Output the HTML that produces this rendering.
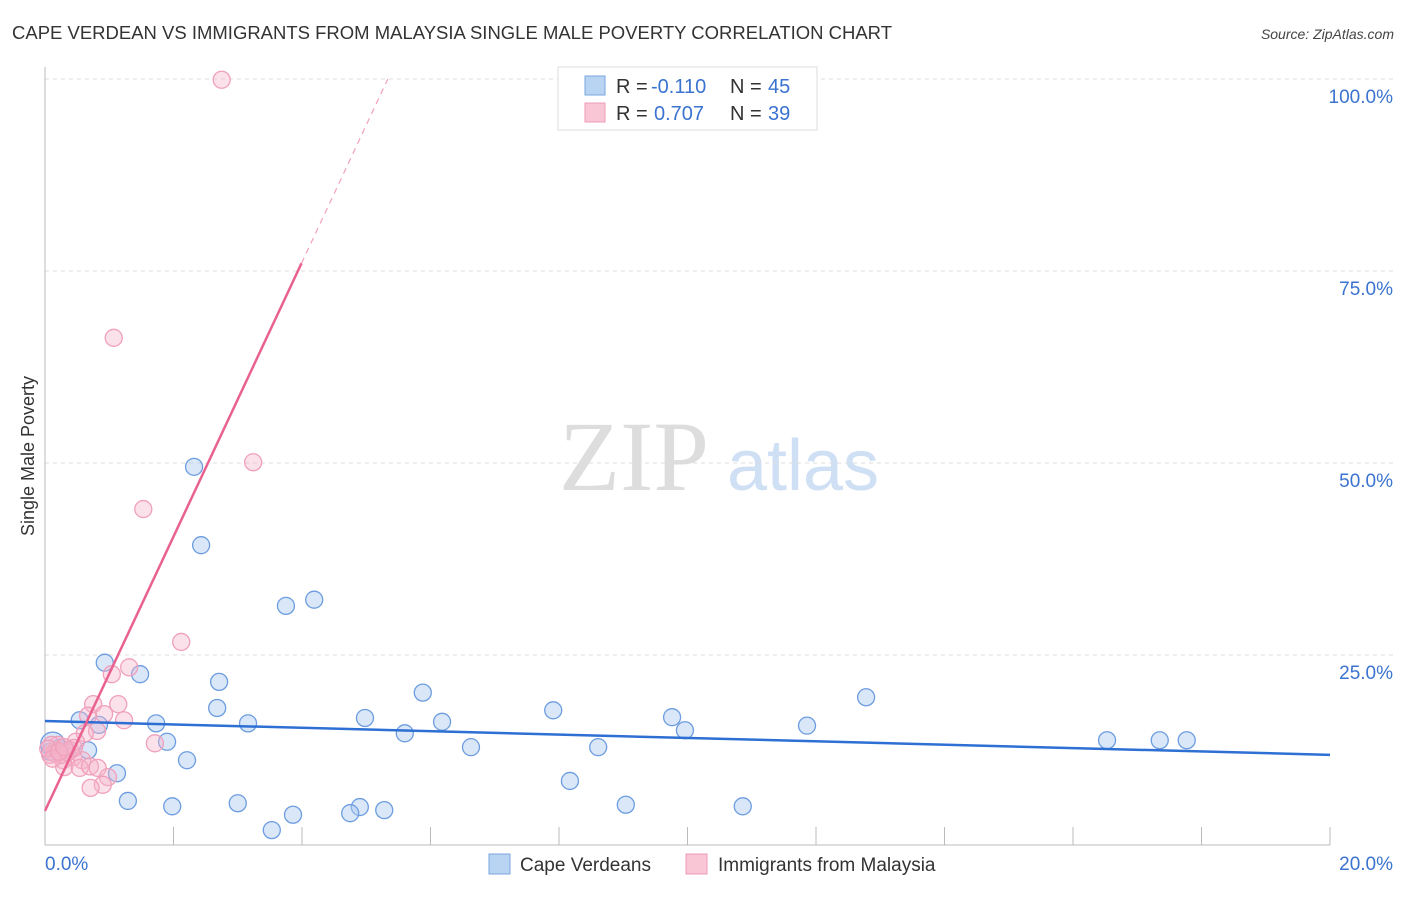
<!DOCTYPE html>
<html><head><meta charset="utf-8"><style>
body{margin:0;background:#fff;font-family:"Liberation Sans",sans-serif;}
</style></head><body>
<svg id="c" width="1406" height="892" style="font-family:'Liberation Sans',sans-serif">
<text x="12" y="39" font-size="18" fill="#333" textLength="880" lengthAdjust="spacingAndGlyphs">CAPE VERDEAN VS IMMIGRANTS FROM MALAYSIA SINGLE MALE POVERTY CORRELATION CHART</text>
<text x="1394" y="39" font-size="14" fill="#444" font-style="italic" text-anchor="end">Source: ZipAtlas.com</text>
<text x="34" y="456" font-size="18" fill="#333" text-anchor="middle" transform="rotate(-90 34 456)">Single Male Poverty</text>
<g><text x="634" y="490" font-size="100" fill="#ddd" style="font-family:'Liberation Serif',serif" text-anchor="middle">ZIP</text><text x="803" y="490" font-size="72" fill="#cfe0f5" text-anchor="middle">atlas</text></g>
<g id="grid"></g><g id="marks"></g>
<g>
<rect x="558" y="67" width="259" height="63" fill="#fff" stroke="#ddd"/>
<rect x="585" y="76" width="20" height="19" fill="#b9d3f2" stroke="#7aa6e0"/>
<rect x="585" y="103" width="20" height="19" fill="#f9c6d6" stroke="#ee9bb6"/>
<text x="616" y="93" font-size="20" fill="#333">R =</text><text x="651" y="93" font-size="20" fill="#3b73d0">-0.110</text>
<text x="730" y="93" font-size="20" fill="#333">N =</text><text x="768" y="93" font-size="20" fill="#3b73d0">45</text>
<text x="616" y="120" font-size="20" fill="#333">R =</text><text x="654" y="120" font-size="20" fill="#3b73d0">0.707</text>
<text x="730" y="120" font-size="20" fill="#333">N =</text><text x="768" y="120" font-size="20" fill="#3b73d0">39</text>
</g>
<g>
<rect x="489" y="854" width="21" height="20" fill="#b9d3f2" stroke="#7aa6e0"/>
<text x="520" y="871" font-size="19" fill="#333">Cape Verdeans</text>
<rect x="686" y="854" width="21" height="20" fill="#f9c6d6" stroke="#ee9bb6"/>
<text x="718" y="871" font-size="19" fill="#333">Immigrants from Malaysia</text>
</g>
</svg>
<script>
const blueX=[0.93,1.48,0.54,0.84,1.73,0.67,1.90,2.21,1.12,1.29,1.98,2.32,2.43,2.71,2.68,3.16,3.00,3.53,3.86,3.75,4.19,4.98,4.90,4.75,5.28,5.60,5.88,6.18,6.63,7.91,8.17,8.61,9.04,9.76,9.96,10.86,11.86,12.78,16.53,17.35,17.77,0.33,0.08,0.23,0.12];
const blueY=[24.0,22.5,16.5,15.9,16.1,12.6,13.7,11.3,9.6,6.0,5.3,49.5,39.3,21.5,18.1,16.1,5.7,2.2,4.2,31.4,32.2,16.8,5.2,4.4,4.8,14.8,20.1,16.3,13.0,17.8,8.6,13.0,5.5,16.9,15.2,5.3,15.8,19.5,13.9,13.9,13.9,12.6,12.4,12.9,13.4];
const pinkX=[2.75,1.07,3.24,1.53,2.12,1.31,1.04,0.75,1.14,0.92,0.67,1.23,0.81,0.62,1.71,0.48,0.19,0.08,0.28,0.44,0.58,0.30,0.54,0.70,0.82,0.98,0.90,0.71,0.20,0.10,0.39,0.15,0.05,0.25,0.35,0.12,0.45,0.22,0.30];
const pinkY=[99.9,66.3,50.1,44.0,26.7,23.4,22.5,18.6,18.6,17.3,17.1,16.5,15.1,14.8,13.5,13.7,12.6,12.0,11.3,11.7,11.3,10.4,10.3,10.5,10.3,9.1,8.1,7.7,13.3,13.3,12.6,12.2,12.8,12.0,12.3,11.5,12.9,12.4,13.0];
const blueLine=[16.4,12.0];   // y at x=0 and x=20
const pinkLine=[4.7,17.86];   // intercept, slope
const yTicks=[25,50,75,100];
const yTickLabels=["25.0%","50.0%","75.0%","100.0%"];
const xTicks=[0,2,4,6,8,10,12,14,16,18,20];
const NS="http://www.w3.org/2000/svg";
const X=v=>45+v/20*1285, Y=v=>847-v*7.68;
function mk(t,a,p){const e=document.createElementNS(NS,t);for(const k in a)e.setAttribute(k,a[k]);p.appendChild(e);return e;}
const g=document.getElementById('grid'),m=document.getElementById('marks');
yTicks.forEach((t,i)=>{
 const l=mk('line',{x1:45,x2:1394,y1:Y(t),y2:Y(t),stroke:'#ddd','stroke-dasharray':'4,4'},g);
 
 
 const tx=mk('text',{x:1393,y:Y(t)+24,'font-size':19,fill:'#3b73d0','text-anchor':'end'},g);
 tx.textContent=yTickLabels[i];
 
 
});
const ax=mk('line',{x1:45,x2:45,y1:67,y2:845,stroke:'#bbb'},g);


const bx=mk('line',{x1:45,x2:1330,y1:845,y2:845,stroke:'#bbb'},g);


xTicks.forEach(t=>{const l=mk('line',{x1:X(t),x2:X(t),y1:827,y2:845,stroke:'#bbb'},g);
 
 });
[["0.0%",45,'start'],["20.0%",1393,'end']].forEach(d=>{const tx=mk('text',{x:d[1],y:870,'font-size':19,fill:'#3b73d0','text-anchor':d[2]},g);tx.textContent=d[0];
 
 });
blueX.forEach((x,i)=>{const c=mk('circle',{cx:X(x),cy:Y(blueY[i]),r:i==44?12:8.5,fill:'rgba(170,202,240,0.45)',stroke:'#6d9de0','stroke-width':1.3},m);
 
 });
pinkX.forEach((x,i)=>{const c=mk('circle',{cx:X(x),cy:Y(pinkY[i]),r:8.5,fill:'rgba(246,180,202,0.4)',stroke:'#f0a0bb','stroke-width':1.3},m);
 
 });
const bl=mk('line',{x1:X(0),y1:Y(blueLine[0]),x2:X(20),y2:Y(blueLine[1]),stroke:'#2e6fd3','stroke-width':2.5},m);


const xs=(76-pinkLine[0])/pinkLine[1], xe=(100-pinkLine[0])/pinkLine[1];
const pl=mk('line',{x1:X(0),y1:Y(pinkLine[0]),x2:X(xs),y2:Y(pinkLine[0]+pinkLine[1]*xs),stroke:'#e9628f','stroke-width':2.5},m);


const pd=mk('line',{x1:X(xs),y1:Y(pinkLine[0]+pinkLine[1]*xs),x2:X(xe),y2:Y(100),stroke:'#f0a0bb','stroke-width':1.2,'stroke-dasharray':'6,5'},m);


</script>
</body></html>
